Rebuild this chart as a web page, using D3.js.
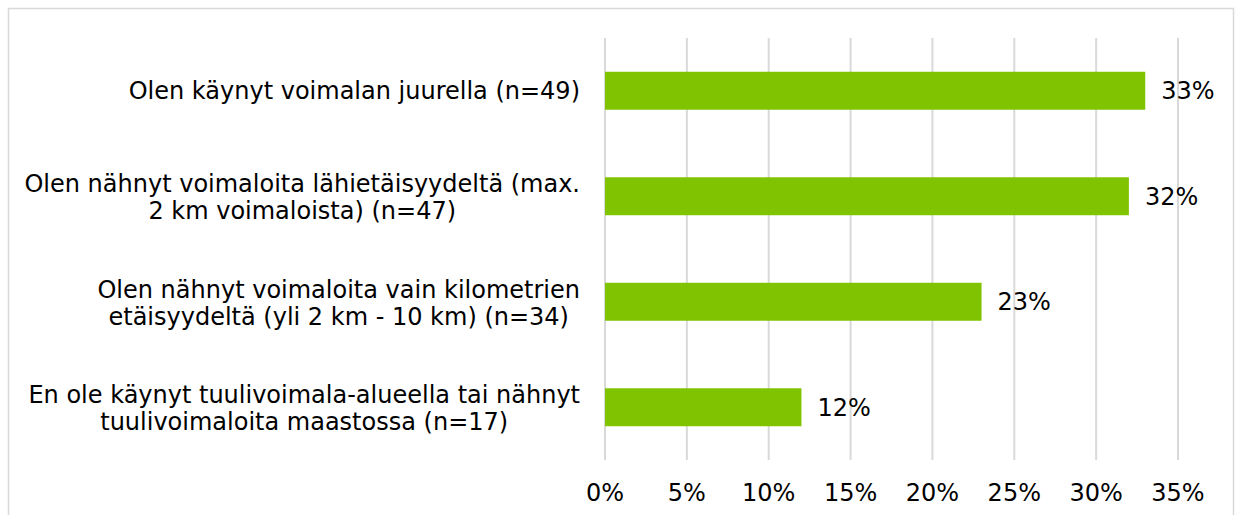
<!DOCTYPE html>
<html>
<head>
<meta charset="utf-8">
<script src="https://cdn.jsdelivr.net/npm/d3@7"></script>
<style>
  body { margin: 0; background: #fff; }
  text { font-family: "DejaVu Sans", Verdana, sans-serif; fill: #000; }
</style>
</head>
<body>
<div id="chart"></div>
<script>
// Chart data
const categories = [
  "Olen käynyt voimalan juurella (n=49)",
  "Olen nähnyt voimaloita lähietäisyydeltä (max.\n2 km voimaloista) (n=47)",
  "Olen nähnyt voimaloita vain kilometrien\netäisyydeltä (yli 2 km - 10 km) (n=34)",
  "En ole käynyt tuulivoimala-alueella tai nähnyt\ntuulivoimaloita maastossa (n=17)"
];
const values = [33, 32, 23, 12];
const ticks = [0, 5, 10, 15, 20, 25, 30, 35];

const W = 1240, H = 515;
const fontSize = 24;
const lineH = 27;

const svg = d3.select("#chart").append("svg")
  .attr("width", W)
  .attr("height", H);

// outer frame
svg.append("rect")
  .attr("x", 8.5).attr("y", 8.5)
  .attr("width", 1225).attr("height", 520)
  .attr("fill", "none")
  .attr("stroke", "#d9d9d9")
  .attr("stroke-width", 1.5);

const x = d3.scaleLinear().domain([0, 35]).range([605, 1178]);
const y = d3.scaleBand()
  .domain(categories)
  .range([38, 460])
  .paddingInner(0.64)
  .paddingOuter(0.32);

// vertical gridlines
svg.append("g")
  .selectAll("line")
  .data(ticks)
  .enter()
  .append("line")
  .attr("x1", d => x(d)).attr("x2", d => x(d))
  .attr("y1", 38).attr("y2", 460)
  .attr("stroke", "#d9d9d9")
  .attr("stroke-width", 2);

// bars
svg.append("g")
  .selectAll("rect")
  .data(values)
  .enter()
  .append("rect")
  .attr("x", x(0))
  .attr("y", (d, i) => y(categories[i]))
  .attr("width", d => x(d) - x(0))
  .attr("height", y.bandwidth())
  .attr("fill", "#80c300");

// value labels
svg.append("g")
  .selectAll("text")
  .data(values)
  .enter()
  .append("text")
  .attr("x", d => x(d) + 16)
  .attr("y", (d, i) => y(categories[i]) + y.bandwidth() / 2)
  .attr("dy", "0.35em")
  .style("font-size", fontSize + "px")
  .text(d => d + "%");

// x tick labels
svg.append("g")
  .selectAll("text")
  .data(ticks)
  .enter()
  .append("text")
  .attr("x", d => x(d))
  .attr("y", 493)
  .attr("dy", "0.35em")
  .attr("text-anchor", "middle")
  .style("font-size", fontSize + "px")
  .text(d => d + "%");

// category labels: block right aligned, lines centered within it
const labelRight = 580;
categories.forEach((cat, i) => {
  const lines = cat.split("\n");
  const g = svg.append("g");
  const texts = lines.map(l => g.append("text")
    .style("font-size", fontSize + "px")
    .attr("text-anchor", "middle")
    .text(l));
  const maxW = d3.max(texts, t => t.node().getComputedTextLength());
  const cy = y(cat) + y.bandwidth() / 2 + (lines.length > 1 ? 1 : 0);
  texts.forEach((t, j) => {
    t.attr("x", labelRight - maxW / 2)
      .attr("y", cy + (j - (lines.length - 1) / 2) * lineH)
      .attr("dy", "0.35em");
  });
});
</script>
</body>
</html>
